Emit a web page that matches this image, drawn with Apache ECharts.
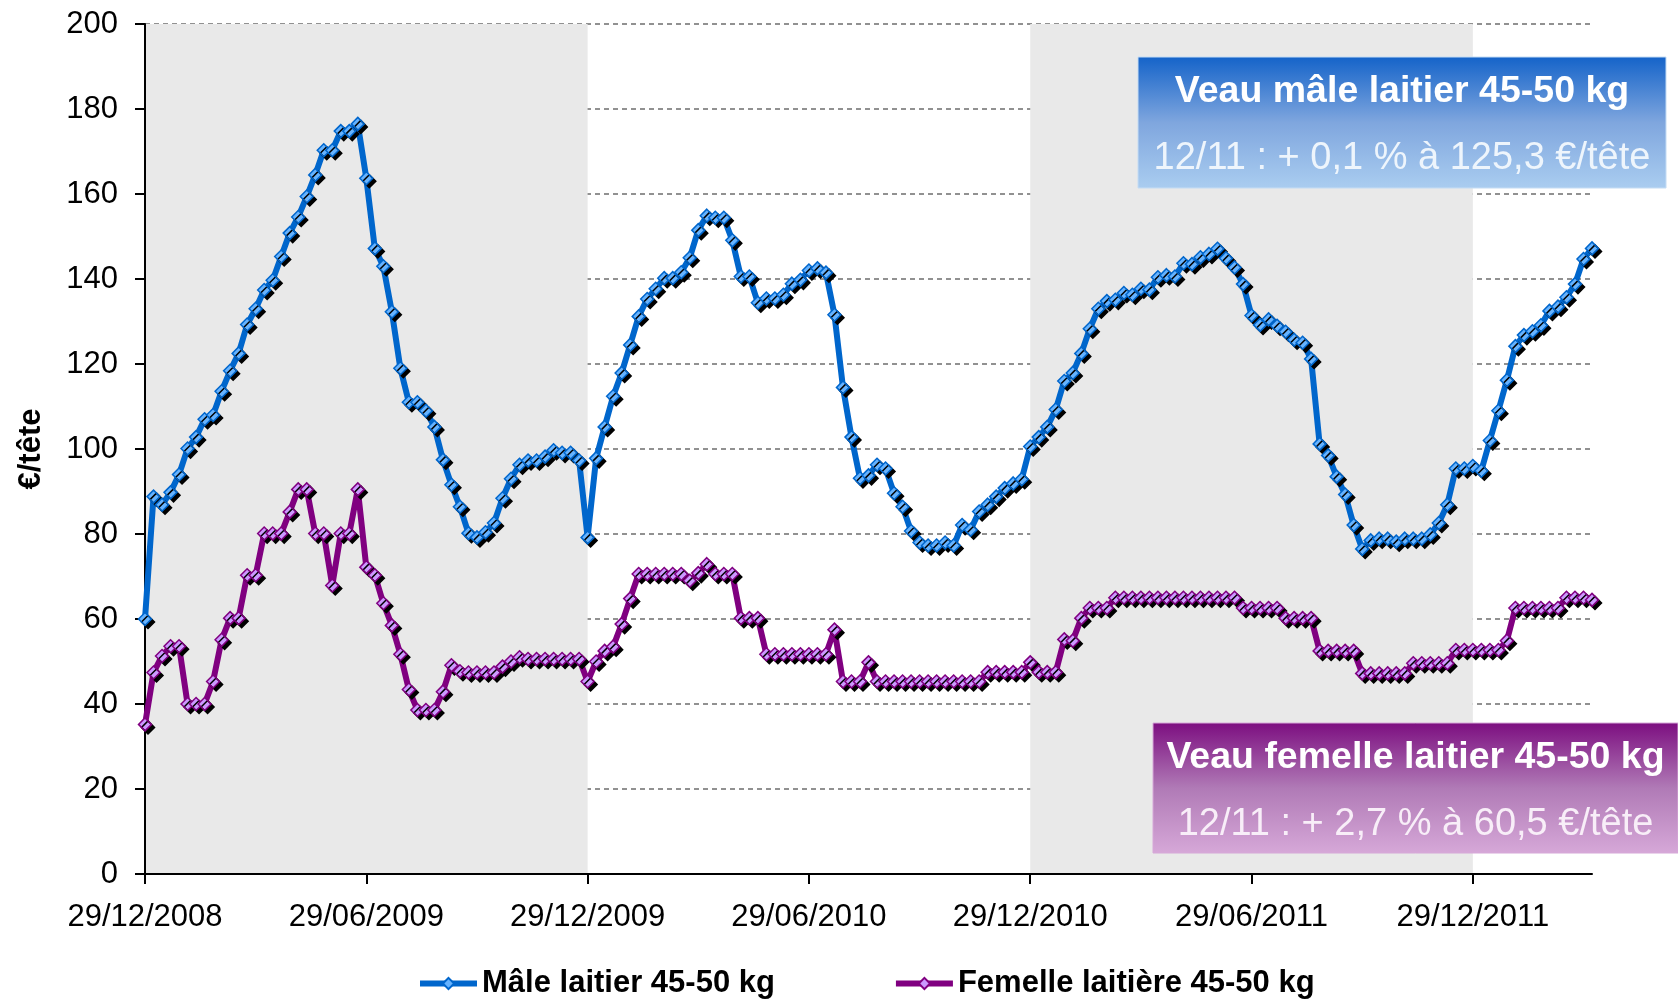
<!DOCTYPE html>
<html>
<head>
<meta charset="utf-8">
<title>Veaux laitiers 45-50 kg</title>
<script src="https://cdn.jsdelivr.net/npm/echarts@6/dist/echarts.min.js"></script>
<style>
  html, body { margin: 0; padding: 0; background: #fff; }
  #chart { width: 1678px; height: 1000px; }
</style>
</head>
<body>
<div id="chart"></div>
<script>
const FONT = "'Liberation Sans', Arial, sans-serif";

// cotations hebdomadaires, du lundi 29/12/2008 (171 semaines)
const firstWeek = [2008, 11, 29];
const nbWeeks = 171;

// graduations de l'axe des dates (une toutes les 26 semaines)
const tickLabels = ['29/12/2008', '29/06/2009', '29/12/2009', '29/06/2010', '29/12/2010', '29/06/2011', '29/12/2011'];
const tickStep = 26;

// périodes grisées
const shadedPeriods = [['29/12/2008', '28/12/2009'], ['27/12/2010', '26/12/2011']];

// €/tête
const male = [
  60, 88.8, 86.9, 89.8, 94, 100.1, 102.8, 107, 108, 113.6, 118.4, 122.5, 129.3, 133, 137.4,
  139.7, 145.3, 150.8, 154.6, 159.4, 164.5, 170.3, 170.3, 174.8, 174.8, 176.5, 163.7, 147.2, 143, 132.3,
  119, 111, 111, 109, 105.2, 97.5, 91.6, 86.4, 80.2, 79.2, 80.4, 82.6, 88.4, 93, 96.3,
  97.3, 97.3, 98.2, 99.7, 99.1, 99.1, 97.3, 79.2, 97.8, 105.2, 112.4, 117.9, 124.5,
  131.2, 135.3, 137.7, 140.2, 140.2, 141.6, 145, 151.5, 154.9, 154.4, 154.4, 149.1, 140.6, 140.6,
  134.4, 135.4, 135.4, 136.3, 138.9, 139.8, 142, 142.5, 141.5, 131.6, 114.5, 102.8, 93.1, 93.8,
  96.3, 95.4, 89.6, 86.4, 80.7, 78, 77.3, 77.3, 78, 77.3, 82.1, 81, 85.3, 86.9,
  88.8, 90.8, 91.9, 92.9, 100.6, 102.8, 105.2, 109.3, 116, 117.9, 122.5, 128.3, 133, 134.8,
  135.1, 136.7, 136.3, 137.7, 137.5, 140.4, 140.9, 140.6, 143.7, 143.5, 145.1, 145.9, 147.1, 144.9,
  142.7, 138.8, 131.4, 129.2, 130.5, 129, 127.6, 125.7, 125, 121.2, 101.2, 98.5, 93.5, 89.3,
  82.1, 76.5, 78.5, 78.9, 78.9, 78.2, 78.9, 78.9, 78.9, 79.9, 82.6, 86.9, 95.4, 95.4, 96,
  94.9, 102, 109, 116.2, 124.2, 126.8, 127.7, 129.1, 132.5, 133.5, 135.7, 138.8, 144.7, 147.2
];

const femelle = [
  35.2, 47.4, 51.3, 53.6, 53.6, 40, 40, 40, 45.3, 55.1, 60.2, 60.2, 70.3, 70.3, 80.1,
  80.1, 80.1, 85.2, 90.5, 90.5, 80.1, 80.1, 67.9, 80.1, 80.1, 90.5, 72.2, 70.3, 63.7, 58.5,
  51.7, 43.4, 38.6, 38.6, 38.6, 42.9, 49.1, 47.7, 47.4, 47.4, 47.4, 47.4, 48.8, 50,
  51, 50.6, 50.6, 50.6, 50.6, 50.6, 50.6, 50.6, 45.3, 50, 52.5, 53.5, 58.8, 64.8,
  70.6, 70.6, 70.6, 70.6, 70.6, 70.6, 69, 70.8, 72.9, 70.6, 70.6, 70.6, 60.2, 60.2,
  60.2, 51.7, 51.7, 51.7, 51.7, 51.7, 51.7, 51.7, 51.7, 57.5, 45.3, 45.3, 45.3, 49.8,
  45.3, 45.3, 45.3, 45.3, 45.3, 45.3, 45.3, 45.3, 45.3, 45.3, 45.3, 45.3, 45.3, 47.5,
  47.5, 47.5, 47.5, 47.5, 49.8, 47.5, 47.5, 47.5, 55.2, 54.9, 60.2, 62.6, 62.6, 62.6,
  65, 65, 65, 65, 65, 65, 65, 65, 65, 65, 65, 65, 65, 65,
  65, 62.6, 62.6, 62.6, 62.6, 62.6, 60.2, 60.2, 60.2, 60.2, 52.5, 52.5, 52.5, 52.5,
  52.5, 47.2, 47.2, 47.2, 47.2, 47.2, 47.2, 49.6, 49.6, 49.6, 49.6, 49.6, 52.7, 52.7, 52.7,
  52.7, 52.7, 52.7, 54.9, 62.6, 62.6, 62.6, 62.6, 62.6, 62.6, 65, 65, 65, 64.5
];

function pad(n) { return n < 10 ? '0' + n : '' + n; }

const weeks = [];
for (let i = 0; i < nbWeeks; i++) {
  const d = new Date(firstWeek[0], firstWeek[1], firstWeek[2] + 7 * i);
  weeks.push(pad(d.getDate()) + '/' + pad(d.getMonth() + 1) + '/' + d.getFullYear());
}

function vgrad(top, mid, bottom) {
  return {
    type: 'linear', x: 0, y: 0, x2: 0, y2: 1,
    colorStops: [
      { offset: 0, color: top },
      { offset: 0.5, color: mid },
      { offset: 1, color: bottom }
    ]
  };
}

// encadré texte (cartouche en haut / en bas à droite)
function cartouche(x, y, w, h, colors, title, sub, subColor) {
  return {
    type: 'group',
    silent: true,
    z: 100,
    children: [
      {
        type: 'rect',
        z: 100,
        shape: { x: x, y: y, width: w, height: h },
        style: { fill: vgrad(colors[0], colors[1], colors[2]), stroke: colors[3], lineWidth: 1 }
      },
      {
        type: 'text', x: x + w / 2, y: y + 35, z: 101,
        style: { text: title, fill: '#ffffff', fontFamily: FONT, fontWeight: 'bold', fontSize: 37.5,
                 align: 'center', verticalAlign: 'middle' }
      },
      {
        type: 'text', x: x + w / 2, y: y + 102, z: 101,
        style: { text: sub, fill: subColor, fontFamily: FONT, fontSize: 38,
                 align: 'center', verticalAlign: 'middle' }
      }
    ]
  };
}

const chart = echarts.init(document.getElementById('chart'));

const option = {
  animation: false,
  backgroundColor: '#ffffff',
  textStyle: { fontFamily: FONT },
  grid: {
    left: 145,
    right: 86,
    top: 24,
    bottom: 126
  },
  legend: {
    data: ['Mâle laitier 45-50 kg', 'Femelle laitière 45-50 kg'],
    left: 412,
    top: 963,
    itemGap: 118,
    itemWidth: 57,
    itemHeight: 14,
    textStyle: { fontFamily: FONT, fontWeight: 'bold', fontSize: 31, color: '#000' },
    lineStyle: { width: 6 },
    itemStyle: { shadowColor: 'rgba(0,0,0,0)' }
  },
  xAxis: {
    type: 'category',
    data: weeks,
    boundaryGap: false,
    z: 1,
    axisLine: { lineStyle: { color: '#000', width: 2 } },
    axisTick: { interval: tickStep - 1, length: 10, lineStyle: { color: '#000', width: 2 } },
    axisLabel: {
      interval: tickStep - 1,
      margin: 28,
      fontSize: 31,
      color: '#000',
      fontFamily: FONT,
      formatter: (v, idx) => tickLabels[Math.round(idx / tickStep)]
    },
    splitLine: { show: false }
  },
  yAxis: {
    type: 'value',
    min: 0,
    max: 200,
    interval: 20,
    z: 1,
    name: '€/tête',
    nameLocation: 'middle',
    nameRotate: 90,
    nameGap: 98,
    nameTextStyle: { fontFamily: FONT, fontWeight: 'bold', fontSize: 31, color: '#000' },
    axisLine: { show: true, lineStyle: { color: '#000', width: 2 } },
    axisTick: { show: true, length: 10, lineStyle: { color: '#000', width: 2 } },
    axisLabel: { margin: 27, fontSize: 31, color: '#000', fontFamily: FONT },
    splitLine: { lineStyle: { color: '#6e6e6e', width: 1.7, type: [5, 4] } }
  },
  series: [
    {
      // fonds grisés
      type: 'line',
      data: [],
      silent: true,
      z: 0,
      markArea: {
        silent: true,
        itemStyle: { color: '#e9e9e9' },
        data: shadedPeriods.map(p => [{ xAxis: p[0] }, { xAxis: p[1] }])
      }
    },
    {
      name: 'Mâle laitier 45-50 kg',
      type: 'line',
      data: male,
      z: 3,
      symbol: 'diamond',
      symbolSize: 13,
      showAllSymbol: true,
      lineStyle: { color: '#0066cc', width: 6 },
      itemStyle: {
        color: '#66b3ff', borderColor: '#0066cc', borderWidth: 1.5,
        shadowColor: '#000', shadowOffsetX: 3, shadowOffsetY: 3, shadowBlur: 0
      },
      emphasis: { disabled: true }
    },
    {
      name: 'Femelle laitière 45-50 kg',
      type: 'line',
      data: femelle,
      z: 3,
      symbol: 'diamond',
      symbolSize: 13,
      showAllSymbol: true,
      lineStyle: { color: '#800080', width: 6 },
      itemStyle: {
        color: '#cc99ff', borderColor: '#800080', borderWidth: 1.5,
        shadowColor: '#000', shadowOffsetX: 3, shadowOffsetY: 3, shadowBlur: 0
      },
      emphasis: { disabled: true }
    }
  ],
  graphic: [
    cartouche(1138, 57, 528, 131, ['#1463c9', '#7fa6de', '#aacdf0', '#c4dcf4'],
      'Veau mâle laitier 45-50 kg', '12/11 : + 0,1 % à 125,3 €/tête', '#eef5fc'),
    cartouche(1153, 723, 525, 130, ['#7c0e80', '#b07ab6', '#d6a8d8', '#d6a8d8'],
      'Veau femelle laitier 45-50 kg', '12/11 : + 2,7 % à 60,5 €/tête', '#f8eef8')
  ]
};

chart.setOption(option);
</script>
</body>
</html>
